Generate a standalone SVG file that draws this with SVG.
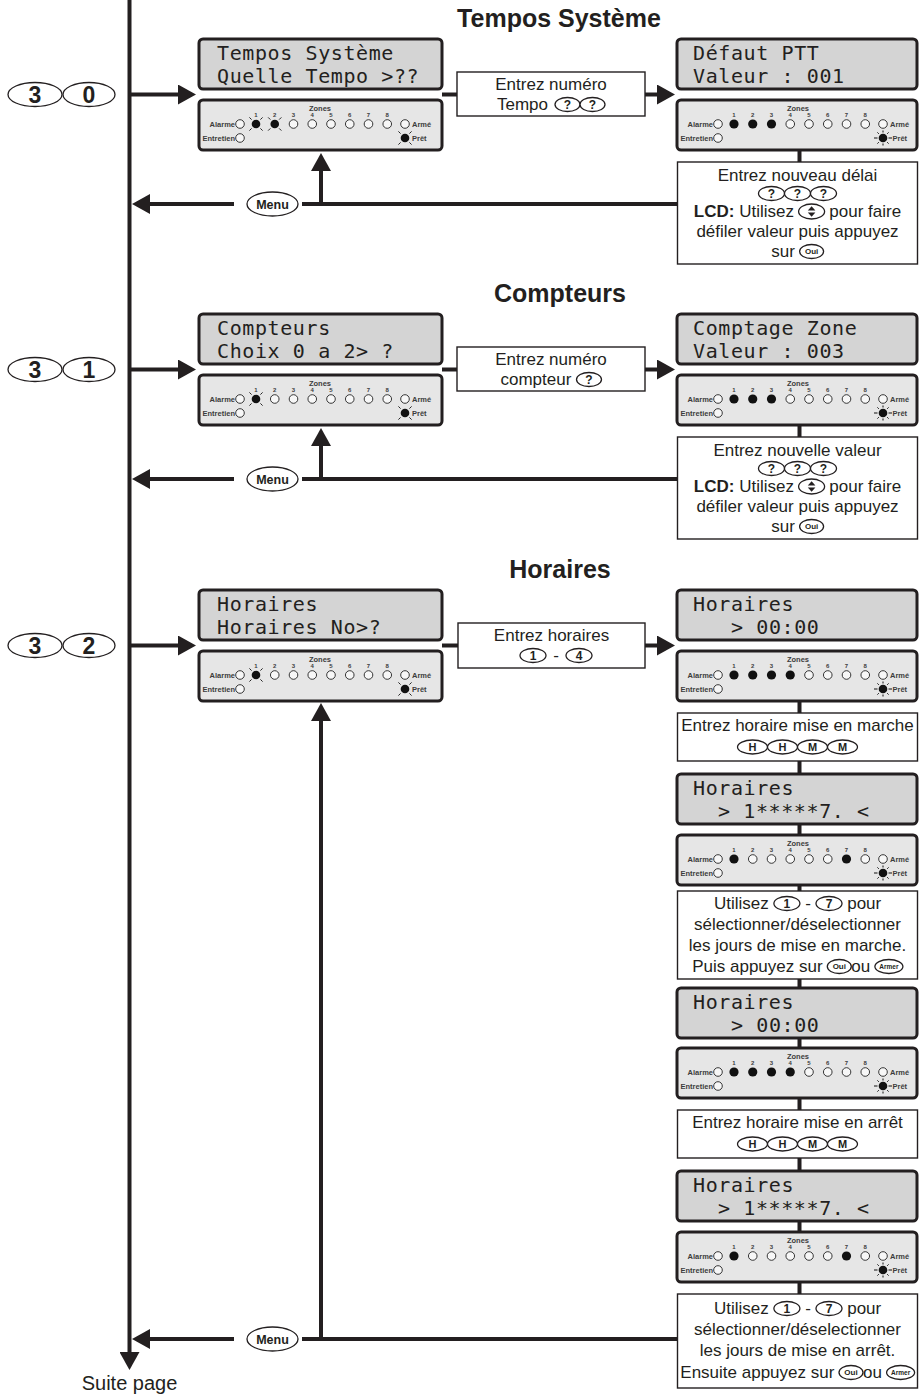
<svg xmlns="http://www.w3.org/2000/svg" width="919" height="1396" viewBox="0 0 919 1396">
<defs>
<style>
.ln{stroke:#231f20;stroke-width:4;fill:none}
.lna{stroke:#231f20;stroke-width:4;fill:none;marker-end:url(#ah)}
.lcd{fill:#d4d4d4;stroke:#231f20;stroke-width:3}
.pnl{fill:#e6e6e6;stroke:#231f20;stroke-width:3}
.box{fill:#fff;stroke:#231f20;stroke-width:1.4}
.key{fill:#fff;stroke:#231f20;stroke-width:1.3}
.lt{font-family:"DejaVu Sans Mono","Liberation Mono",monospace;font-size:20px;fill:#231f20;letter-spacing:0.6px}
.bt{font-family:"Liberation Sans",Arial,sans-serif;font-size:17px;fill:#231f20}
.c{text-anchor:middle}
.b{font-weight:bold}
.ttl{font-family:"Liberation Sans",Arial,sans-serif;font-size:25px;font-weight:bold;fill:#231f20;text-anchor:middle}
.kt{font-family:"Liberation Sans",Arial,sans-serif;font-weight:bold;fill:#231f20;text-anchor:middle}
.pl{font-family:"Liberation Sans",Arial,sans-serif;font-size:7.5px;font-weight:bold;fill:#3c3c3c}
.pz{font-family:"Liberation Sans",Arial,sans-serif;font-size:7.5px;font-weight:bold;fill:#3c3c3c;text-anchor:middle}
.pn{font-family:"Liberation Sans",Arial,sans-serif;font-size:6px;font-weight:bold;fill:#3c3c3c;text-anchor:middle}
.st{font-family:"Liberation Sans",Arial,sans-serif;font-size:20px;fill:#231f20;text-anchor:middle}
</style>
<marker id="ah" viewBox="0 0 18 20" markerWidth="18" markerHeight="20" refX="2" refY="10" orient="auto" markerUnits="userSpaceOnUse"><path d="M0,0 L18,10 L0,20 Z" fill="#231f20"/></marker>
<circle id="of" r="4.3" fill="#f7f7f7" stroke="#222" stroke-width="0.9"/>
<circle id="on" r="4.6" fill="#111"/>
<g id="fl"><circle r="4.3" fill="#111"/><path d="M-4.4,-4.4 L-6.6,-6.6 M4.4,-4.4 L6.6,-6.6 M-4.4,4.4 L-6.6,6.6 M4.4,4.4 L6.6,6.6" stroke="#111" stroke-width="0.9"/></g>
<g id="ry"><circle r="4.3" fill="#111"/><path d="M-5.5,0 H-9 M5.5,0 H9 M0,-5.5 V-7.5 M0,5.5 V7.5 M-4.2,-4.2 L-5.6,-5.6 M4.2,-4.2 L5.6,-5.6 M-4.2,4.2 L-5.6,5.6 M4.2,4.2 L5.6,5.6" stroke="#111" stroke-width="1"/></g>
<path id="updn" d="M-3.8,-1 L0,-5.2 L3.8,-1 Z M-3.8,1 L0,5.2 L3.8,1 Z" fill="#231f20"/>
</defs>
<rect width="919" height="1396" fill="#fff"/>

<g id="connectors">
<path class="lna" d="M129.5,0 V1354"/>
<path class="lna" d="M131,94.5 H180"/>
<path class="lna" d="M131,369.5 H180"/>
<path class="lna" d="M131,645.5 H180"/>
<path class="ln" d="M442,94.5 H457"/>
<path class="ln" d="M442,369.5 H457"/>
<path class="ln" d="M442,645.5 H458"/>
<path class="lna" d="M645,94.5 H659"/>
<path class="lna" d="M645,369.5 H659"/>
<path class="lna" d="M645,645.5 H659"/>
<path class="ln" d="M799.5,150 V162"/>
<path class="ln" d="M799.5,425 V437"/>
<path class="ln" d="M799.5,701 V1294"/>
<path class="lna" d="M234,204 H148"/>
<path class="ln" d="M302,204 H677.5"/>
<path class="lna" d="M321,204 V169"/>
<path class="lna" d="M234,479 H148"/>
<path class="ln" d="M302,479 H677.5"/>
<path class="lna" d="M321,479 V444"/>
<path class="lna" d="M234,1339 H148"/>
<path class="ln" d="M302,1339 H677.5"/>
<path class="lna" d="M321,1339 V719"/>
</g>

<g id="titles">
<text class="ttl" x="559" y="27">Tempos Système</text>
<text class="ttl" x="560" y="302">Compteurs</text>
<text class="ttl" x="560" y="578">Horaires</text>
</g>

<g id="key-30">
<ellipse class="key" cx="35" cy="94.5" rx="27" ry="12"/>
<ellipse class="key" cx="89" cy="94.5" rx="26" ry="12"/>
<text class="kt" x="35" y="102.7" font-size="23">3</text>
<text class="kt" x="89" y="102.7" font-size="23">0</text>
</g>
<g id="key-31">
<ellipse class="key" cx="35" cy="369.5" rx="27" ry="12"/>
<ellipse class="key" cx="89" cy="369.5" rx="26" ry="12"/>
<text class="kt" x="35" y="377.7" font-size="23">3</text>
<text class="kt" x="89" y="377.7" font-size="23">1</text>
</g>
<g id="key-32">
<ellipse class="key" cx="35" cy="645.5" rx="27" ry="12"/>
<ellipse class="key" cx="89" cy="645.5" rx="26" ry="12"/>
<text class="kt" x="35" y="653.7" font-size="23">3</text>
<text class="kt" x="89" y="653.7" font-size="23">2</text>
</g>

<g id="menu-1"><ellipse class="key" cx="272.5" cy="204" rx="25.5" ry="12"/><text class="kt" x="272.5" y="208.5" font-size="12.5">Menu</text></g>
<g id="menu-2"><ellipse class="key" cx="272.5" cy="479" rx="25.5" ry="12"/><text class="kt" x="272.5" y="483.5" font-size="12.5">Menu</text></g>
<g id="menu-3"><ellipse class="key" cx="272.5" cy="1339" rx="25.5" ry="12"/><text class="kt" x="272.5" y="1343.5" font-size="12.5">Menu</text></g>

<!-- Section 1 -->
<g id="lcd-s1-left">
<rect class="lcd" x="199" y="39" width="243" height="50" rx="4"/>
<text class="lt" x="217" y="60">Tempos Système</text>
<text class="lt" x="217" y="83">Quelle Tempo &gt;??</text>
</g>
<g id="panel-s1-left" transform="translate(199,100)">
<rect class="pnl" width="243" height="50" rx="4"/>
<text class="pz" x="121" y="11">Zones</text>
<text class="pn" x="57 75.75 94.5 113.25 132 150.75 169.5 188.25" y="16.5">12345678</text>
<text class="pl" x="36" y="27" text-anchor="end">Alarme</text>
<text class="pl" x="36" y="41" text-anchor="end">Entretien</text>
<text class="pl" x="213" y="27">Armé</text>
<text class="pl" x="213" y="41">Prêt</text>
<use href="#of" x="41" y="24"/><use href="#of" x="41" y="38"/><use href="#of" x="206" y="24"/><use href="#fl" x="206" y="38"/>
<use href="#fl" x="57" y="24"/><use href="#fl" x="75.75" y="24"/><use href="#of" x="94.5" y="24"/><use href="#of" x="113.25" y="24"/><use href="#of" x="132" y="24"/><use href="#of" x="150.75" y="24"/><use href="#of" x="169.5" y="24"/><use href="#of" x="188.25" y="24"/>
</g>
<g id="box-s1-mid">
<rect class="box" x="457" y="72" width="188" height="44"/>
<text class="bt c" x="551" y="90">Entrez numéro</text>
<text class="bt" x="497" y="110">Tempo</text>
<ellipse class="key" cx="567.5" cy="104.5" rx="12.5" ry="7"/><text class="kt" x="567.5" y="108.8" font-size="12">?</text>
<ellipse class="key" cx="592.5" cy="104.5" rx="12.5" ry="7"/><text class="kt" x="592.5" y="108.8" font-size="12">?</text>
</g>
<g id="lcd-s1-right">
<rect class="lcd" x="677" y="39" width="240" height="50" rx="4"/>
<text class="lt" x="693" y="60">Défaut PTT</text>
<text class="lt" x="693" y="83">Valeur : 001</text>
</g>
<g id="panel-s1-right" transform="translate(677,100)">
<rect class="pnl" width="240" height="50" rx="4"/>
<text class="pz" x="121" y="11">Zones</text>
<text class="pn" x="57 75.75 94.5 113.25 132 150.75 169.5 188.25" y="16.5">12345678</text>
<text class="pl" x="36" y="27" text-anchor="end">Alarme</text>
<text class="pl" x="36" y="41" text-anchor="end">Entretien</text>
<text class="pl" x="213" y="27">Armé</text>
<text class="pl" x="215.5" y="41">Prêt</text>
<use href="#of" x="41" y="24"/><use href="#of" x="41" y="38"/><use href="#of" x="206" y="24"/><use href="#ry" x="206" y="38"/>
<use href="#on" x="57" y="24"/><use href="#on" x="75.75" y="24"/><use href="#on" x="94.5" y="24"/><use href="#of" x="113.25" y="24"/><use href="#of" x="132" y="24"/><use href="#of" x="150.75" y="24"/><use href="#of" x="169.5" y="24"/><use href="#of" x="188.25" y="24"/>
</g>
<g id="box-s1-right">
<rect class="box" x="677.5" y="162" width="240" height="102"/>
<text class="bt c" x="797.5" y="181">Entrez nouveau délai</text>
<ellipse class="key" cx="771.5" cy="193.5" rx="13" ry="7"/><text class="kt" x="771.5" y="197.8" font-size="12">?</text>
<ellipse class="key" cx="797.5" cy="193.5" rx="13" ry="7"/><text class="kt" x="797.5" y="197.8" font-size="12">?</text>
<ellipse class="key" cx="823.5" cy="193.5" rx="13" ry="7"/><text class="kt" x="823.5" y="197.8" font-size="12">?</text>
<text class="bt" x="693.8" y="217"><tspan class="b">LCD:</tspan> Utilisez</text>
<ellipse class="key" cx="811.6" cy="211.5" rx="13" ry="7.5"/><use href="#updn" x="811.6" y="211.5"/>
<text class="bt" x="829.3" y="217">pour faire</text>
<text class="bt c" x="797.5" y="237">défiler valeur puis appuyez</text>
<text class="bt" x="771.3" y="257">sur</text>
<ellipse class="key" cx="811.6" cy="251.5" rx="12" ry="7"/><text class="kt" x="811.6" y="254.3" font-size="8">Oui</text>
</g>

<!-- Section 2 -->
<g id="lcd-s2-left">
<rect class="lcd" x="199" y="314" width="243" height="50" rx="4"/>
<text class="lt" x="217" y="335">Compteurs</text>
<text class="lt" x="217" y="358">Choix 0 a 2&gt; ?</text>
</g>
<g id="panel-s2-left" transform="translate(199,375)">
<rect class="pnl" width="243" height="50" rx="4"/>
<text class="pz" x="121" y="11">Zones</text>
<text class="pn" x="57 75.75 94.5 113.25 132 150.75 169.5 188.25" y="16.5">12345678</text>
<text class="pl" x="36" y="27" text-anchor="end">Alarme</text>
<text class="pl" x="36" y="41" text-anchor="end">Entretien</text>
<text class="pl" x="213" y="27">Armé</text>
<text class="pl" x="213" y="41">Prêt</text>
<use href="#of" x="41" y="24"/><use href="#of" x="41" y="38"/><use href="#of" x="206" y="24"/><use href="#fl" x="206" y="38"/>
<use href="#fl" x="57" y="24"/><use href="#of" x="75.75" y="24"/><use href="#of" x="94.5" y="24"/><use href="#of" x="113.25" y="24"/><use href="#of" x="132" y="24"/><use href="#of" x="150.75" y="24"/><use href="#of" x="169.5" y="24"/><use href="#of" x="188.25" y="24"/>
</g>
<g id="box-s2-mid">
<rect class="box" x="457" y="347" width="188" height="44"/>
<text class="bt c" x="551" y="365">Entrez numéro</text>
<text class="bt" x="500.5" y="385">compteur</text>
<ellipse class="key" cx="589" cy="379.5" rx="12.5" ry="7"/><text class="kt" x="589" y="383.8" font-size="12">?</text>
</g>
<g id="lcd-s2-right">
<rect class="lcd" x="677" y="314" width="240" height="50" rx="4"/>
<text class="lt" x="693" y="335">Comptage Zone</text>
<text class="lt" x="693" y="358">Valeur : 003</text>
</g>
<g id="panel-s2-right" transform="translate(677,375)">
<rect class="pnl" width="240" height="50" rx="4"/>
<text class="pz" x="121" y="11">Zones</text>
<text class="pn" x="57 75.75 94.5 113.25 132 150.75 169.5 188.25" y="16.5">12345678</text>
<text class="pl" x="36" y="27" text-anchor="end">Alarme</text>
<text class="pl" x="36" y="41" text-anchor="end">Entretien</text>
<text class="pl" x="213" y="27">Armé</text>
<text class="pl" x="215.5" y="41">Prêt</text>
<use href="#of" x="41" y="24"/><use href="#of" x="41" y="38"/><use href="#of" x="206" y="24"/><use href="#ry" x="206" y="38"/>
<use href="#on" x="57" y="24"/><use href="#on" x="75.75" y="24"/><use href="#on" x="94.5" y="24"/><use href="#of" x="113.25" y="24"/><use href="#of" x="132" y="24"/><use href="#of" x="150.75" y="24"/><use href="#of" x="169.5" y="24"/><use href="#of" x="188.25" y="24"/>
</g>
<g id="box-s2-right">
<rect class="box" x="677.5" y="437" width="240" height="102"/>
<text class="bt c" x="797.5" y="456">Entrez nouvelle valeur</text>
<ellipse class="key" cx="771.5" cy="468.5" rx="13" ry="7"/><text class="kt" x="771.5" y="472.8" font-size="12">?</text>
<ellipse class="key" cx="797.5" cy="468.5" rx="13" ry="7"/><text class="kt" x="797.5" y="472.8" font-size="12">?</text>
<ellipse class="key" cx="823.5" cy="468.5" rx="13" ry="7"/><text class="kt" x="823.5" y="472.8" font-size="12">?</text>
<text class="bt" x="693.8" y="492"><tspan class="b">LCD:</tspan> Utilisez</text>
<ellipse class="key" cx="811.6" cy="486.5" rx="13" ry="7.5"/><use href="#updn" x="811.6" y="486.5"/>
<text class="bt" x="829.3" y="492">pour faire</text>
<text class="bt c" x="797.5" y="512">défiler valeur puis appuyez</text>
<text class="bt" x="771.3" y="532">sur</text>
<ellipse class="key" cx="811.6" cy="526.5" rx="12" ry="7"/><text class="kt" x="811.6" y="529.3" font-size="8">Oui</text>
</g>

<!-- Section 3 -->
<g id="lcd-s3-left">
<rect class="lcd" x="199" y="590" width="243" height="50" rx="4"/>
<text class="lt" x="217" y="611">Horaires</text>
<text class="lt" x="217" y="634">Horaires No&gt;?</text>
</g>
<g id="panel-s3-left" transform="translate(199,651)">
<rect class="pnl" width="243" height="50" rx="4"/>
<text class="pz" x="121" y="11">Zones</text>
<text class="pn" x="57 75.75 94.5 113.25 132 150.75 169.5 188.25" y="16.5">12345678</text>
<text class="pl" x="36" y="27" text-anchor="end">Alarme</text>
<text class="pl" x="36" y="41" text-anchor="end">Entretien</text>
<text class="pl" x="213" y="27">Armé</text>
<text class="pl" x="213" y="41">Prêt</text>
<use href="#of" x="41" y="24"/><use href="#of" x="41" y="38"/><use href="#of" x="206" y="24"/><use href="#fl" x="206" y="38"/>
<use href="#fl" x="57" y="24"/><use href="#of" x="75.75" y="24"/><use href="#of" x="94.5" y="24"/><use href="#of" x="113.25" y="24"/><use href="#of" x="132" y="24"/><use href="#of" x="150.75" y="24"/><use href="#of" x="169.5" y="24"/><use href="#of" x="188.25" y="24"/>
</g>
<g id="box-s3-mid">
<rect class="box" x="458" y="623" width="187" height="45"/>
<text class="bt c" x="551.5" y="641">Entrez horaires</text>
<ellipse class="key" cx="533" cy="655.5" rx="13" ry="7"/><text class="kt" x="533" y="659.8" font-size="12">1</text>
<text class="bt c" x="556" y="661">-</text>
<ellipse class="key" cx="579" cy="655.5" rx="13" ry="7"/><text class="kt" x="579" y="659.8" font-size="12">4</text>
</g>

<g id="lcd-s3-a">
<rect class="lcd" x="677" y="590" width="240" height="50" rx="4"/>
<text class="lt" x="693" y="611">Horaires</text>
<text class="lt" x="731" y="634">&gt; 00:00</text>
</g>
<g id="panel-s3-a" transform="translate(677,651)">
<rect class="pnl" width="240" height="50" rx="4"/>
<text class="pz" x="121" y="11">Zones</text>
<text class="pn" x="57 75.75 94.5 113.25 132 150.75 169.5 188.25" y="16.5">12345678</text>
<text class="pl" x="36" y="27" text-anchor="end">Alarme</text>
<text class="pl" x="36" y="41" text-anchor="end">Entretien</text>
<text class="pl" x="213" y="27">Armé</text>
<text class="pl" x="215.5" y="41">Prêt</text>
<use href="#of" x="41" y="24"/><use href="#of" x="41" y="38"/><use href="#of" x="206" y="24"/><use href="#ry" x="206" y="38"/>
<use href="#on" x="57" y="24"/><use href="#on" x="75.75" y="24"/><use href="#on" x="94.5" y="24"/><use href="#on" x="113.25" y="24"/><use href="#of" x="132" y="24"/><use href="#of" x="150.75" y="24"/><use href="#of" x="169.5" y="24"/><use href="#of" x="188.25" y="24"/>
</g>
<g id="box-s3-1">
<rect class="box" x="677.5" y="713" width="240" height="48"/>
<text class="bt c" x="797.5" y="731">Entrez horaire mise en marche</text>
<ellipse class="key" cx="752.5" cy="747" rx="15" ry="7"/><text class="kt" x="752.5" y="751" font-size="11">H</text>
<ellipse class="key" cx="782.5" cy="747" rx="15" ry="7"/><text class="kt" x="782.5" y="751" font-size="11">H</text>
<ellipse class="key" cx="812.5" cy="747" rx="15" ry="7"/><text class="kt" x="812.5" y="751" font-size="11">M</text>
<ellipse class="key" cx="842.5" cy="747" rx="15" ry="7"/><text class="kt" x="842.5" y="751" font-size="11">M</text>
</g>
<g id="lcd-s3-b">
<rect class="lcd" x="677" y="774" width="240" height="50" rx="4"/>
<text class="lt" x="693" y="795">Horaires</text>
<text class="lt" x="718" y="818">&gt; 1*****7. &lt;</text>
</g>
<g id="panel-s3-b" transform="translate(677,835)">
<rect class="pnl" width="240" height="50" rx="4"/>
<text class="pz" x="121" y="11">Zones</text>
<text class="pn" x="57 75.75 94.5 113.25 132 150.75 169.5 188.25" y="16.5">12345678</text>
<text class="pl" x="36" y="27" text-anchor="end">Alarme</text>
<text class="pl" x="36" y="41" text-anchor="end">Entretien</text>
<text class="pl" x="213" y="27">Armé</text>
<text class="pl" x="215.5" y="41">Prêt</text>
<use href="#of" x="41" y="24"/><use href="#of" x="41" y="38"/><use href="#of" x="206" y="24"/><use href="#ry" x="206" y="38"/>
<use href="#on" x="57" y="24"/><use href="#of" x="75.75" y="24"/><use href="#of" x="94.5" y="24"/><use href="#of" x="113.25" y="24"/><use href="#of" x="132" y="24"/><use href="#of" x="150.75" y="24"/><use href="#on" x="169.5" y="24"/><use href="#of" x="188.25" y="24"/>
</g>
<g id="box-s3-2">
<rect class="box" x="677.5" y="891" width="240" height="88"/>
<text class="bt" x="713.9" y="909">Utilisez</text>
<ellipse class="key" cx="786.9" cy="903.5" rx="13" ry="7"/><text class="kt" x="786.9" y="907.8" font-size="12">1</text>
<text class="bt c" x="808" y="909">-</text>
<ellipse class="key" cx="829" cy="903.5" rx="13" ry="7"/><text class="kt" x="829" y="907.8" font-size="12">7</text>
<text class="bt" x="847.2" y="909">pour</text>
<text class="bt c" x="797.5" y="930">sélectionner/déselectionner</text>
<text class="bt c" x="797.5" y="951">les jours de mise en marche.</text>
<text class="bt" x="692.2" y="972">Puis appuyez sur</text>
<ellipse class="key" cx="839.3" cy="966.5" rx="12" ry="7"/><text class="kt" x="839.3" y="969.3" font-size="8">Oui</text>
<text class="bt" x="851.3" y="972">ou</text>
<ellipse class="key" cx="888.9" cy="966.5" rx="14" ry="7"/><text class="kt" x="888.9" y="968.8" font-size="6.5">Armer</text>
</g>
<g id="lcd-s3-c">
<rect class="lcd" x="677" y="988" width="240" height="50" rx="4"/>
<text class="lt" x="693" y="1009">Horaires</text>
<text class="lt" x="731" y="1032">&gt; 00:00</text>
</g>
<g id="panel-s3-c" transform="translate(677,1048)">
<rect class="pnl" width="240" height="50" rx="4"/>
<text class="pz" x="121" y="11">Zones</text>
<text class="pn" x="57 75.75 94.5 113.25 132 150.75 169.5 188.25" y="16.5">12345678</text>
<text class="pl" x="36" y="27" text-anchor="end">Alarme</text>
<text class="pl" x="36" y="41" text-anchor="end">Entretien</text>
<text class="pl" x="213" y="27">Armé</text>
<text class="pl" x="215.5" y="41">Prêt</text>
<use href="#of" x="41" y="24"/><use href="#of" x="41" y="38"/><use href="#of" x="206" y="24"/><use href="#ry" x="206" y="38"/>
<use href="#on" x="57" y="24"/><use href="#on" x="75.75" y="24"/><use href="#on" x="94.5" y="24"/><use href="#on" x="113.25" y="24"/><use href="#of" x="132" y="24"/><use href="#of" x="150.75" y="24"/><use href="#of" x="169.5" y="24"/><use href="#of" x="188.25" y="24"/>
</g>
<g id="box-s3-3">
<rect class="box" x="677.5" y="1110" width="240" height="48"/>
<text class="bt c" x="797.5" y="1128">Entrez horaire mise en arrêt</text>
<ellipse class="key" cx="752.5" cy="1144" rx="15" ry="7"/><text class="kt" x="752.5" y="1148" font-size="11">H</text>
<ellipse class="key" cx="782.5" cy="1144" rx="15" ry="7"/><text class="kt" x="782.5" y="1148" font-size="11">H</text>
<ellipse class="key" cx="812.5" cy="1144" rx="15" ry="7"/><text class="kt" x="812.5" y="1148" font-size="11">M</text>
<ellipse class="key" cx="842.5" cy="1144" rx="15" ry="7"/><text class="kt" x="842.5" y="1148" font-size="11">M</text>
</g>
<g id="lcd-s3-d">
<rect class="lcd" x="677" y="1171" width="240" height="50" rx="4"/>
<text class="lt" x="693" y="1192">Horaires</text>
<text class="lt" x="718" y="1215">&gt; 1*****7. &lt;</text>
</g>
<g id="panel-s3-d" transform="translate(677,1232)">
<rect class="pnl" width="240" height="50" rx="4"/>
<text class="pz" x="121" y="11">Zones</text>
<text class="pn" x="57 75.75 94.5 113.25 132 150.75 169.5 188.25" y="16.5">12345678</text>
<text class="pl" x="36" y="27" text-anchor="end">Alarme</text>
<text class="pl" x="36" y="41" text-anchor="end">Entretien</text>
<text class="pl" x="213" y="27">Armé</text>
<text class="pl" x="215.5" y="41">Prêt</text>
<use href="#of" x="41" y="24"/><use href="#of" x="41" y="38"/><use href="#of" x="206" y="24"/><use href="#ry" x="206" y="38"/>
<use href="#on" x="57" y="24"/><use href="#of" x="75.75" y="24"/><use href="#of" x="94.5" y="24"/><use href="#of" x="113.25" y="24"/><use href="#of" x="132" y="24"/><use href="#of" x="150.75" y="24"/><use href="#on" x="169.5" y="24"/><use href="#of" x="188.25" y="24"/>
</g>
<g id="box-s3-4">
<rect class="box" x="677.5" y="1294" width="240" height="94"/>
<text class="bt" x="713.9" y="1314">Utilisez</text>
<ellipse class="key" cx="786.9" cy="1308.5" rx="13" ry="7"/><text class="kt" x="786.9" y="1312.8" font-size="12">1</text>
<text class="bt c" x="808" y="1314">-</text>
<ellipse class="key" cx="829" cy="1308.5" rx="13" ry="7"/><text class="kt" x="829" y="1312.8" font-size="12">7</text>
<text class="bt" x="847.2" y="1314">pour</text>
<text class="bt c" x="797.5" y="1335">sélectionner/déselectionner</text>
<text class="bt c" x="797.5" y="1356">les jours de mise en arrêt.</text>
<text class="bt" x="680.3" y="1378">Ensuite appuyez sur</text>
<ellipse class="key" cx="851" cy="1372.5" rx="12" ry="7"/><text class="kt" x="851" y="1375.3" font-size="8">Oui</text>
<text class="bt" x="863" y="1378">ou</text>
<ellipse class="key" cx="900.6" cy="1372.5" rx="14" ry="7"/><text class="kt" x="900.6" y="1374.8" font-size="6.5">Armer</text>
</g>

<g id="suite-page"><text class="st" x="129.5" y="1390">Suite page</text></g>
</svg>
